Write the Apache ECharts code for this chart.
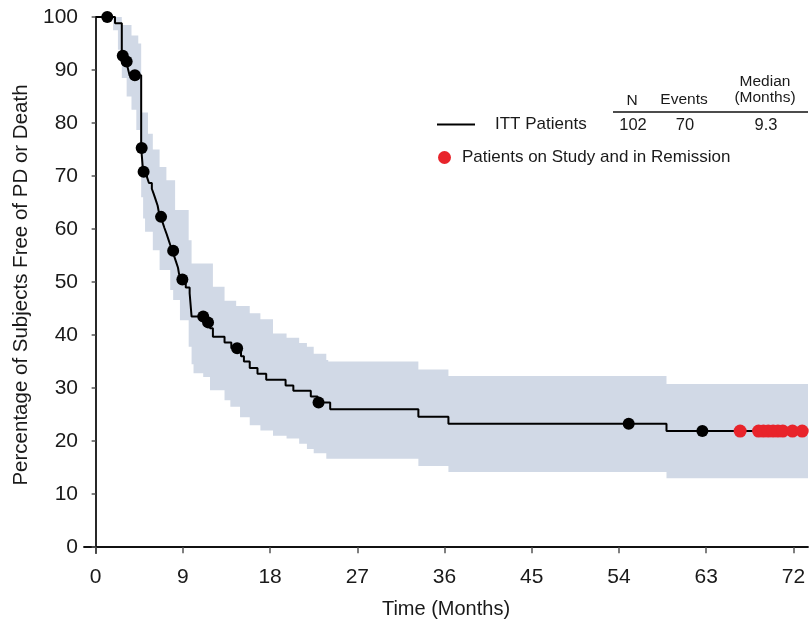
<!DOCTYPE html>
<html>
<head>
<meta charset="utf-8">
<title>PFS - ITT Patients</title>
<script src="https://cdn.jsdelivr.net/npm/echarts@6/dist/echarts.min.js"></script>
<style>
    html, body { margin: 0; padding: 0; background: #fff; }
    #chart { width: 809px; height: 622px; }
</style>
</head>
<body>
<div id="chart"></div>
<script>
    // Kaplan-Meier estimate: value (%) holds from that time (months) on
    var kmTime = [0, 2.0, 2.7, 3.0, 3.3, 3.5, 4.7, 4.9, 5.3, 5.5, 5.8, 6.0, 6.2, 6.4, 6.5, 6.6,
        6.9, 7.1, 7.3, 7.5, 7.7, 7.9, 8.1, 8.3, 8.5, 8.6, 8.8, 9.3, 9.7, 9.9, 11.3, 11.8, 12.1,
        13.3, 14.0, 15.0, 15.3, 15.9, 16.7, 17.6, 19.6, 20.4, 22.2, 22.9, 24.2, 33.3, 36.4, 58.9, 72.9];
    var kmSurv = [100, 98.8, 92.7, 91.6, 90.5, 89.0, 75.3, 70.8, 69.8, 68.7, 67.6, 66.6, 65.5, 64.4, 63.4, 62.3,
        61.3, 60.2, 59.2, 58.1, 57.0, 55.9, 54.9, 53.8, 52.7, 51.6, 50.5, 49.0, 47.9, 43.5, 42.4, 41.3, 39.7,
        38.6, 37.5, 36.0, 35.0, 33.8, 32.7, 31.6, 30.5, 29.5, 28.4, 27.3, 26.0, 24.6, 23.3, 21.9, 21.9];

    // 95% confidence band, step values from each time on
    var bandTime = [0, 1.8, 2.3, 2.7, 3.2, 3.7, 4.2, 4.4, 4.6, 4.7, 4.9, 5.1, 5.4, 5.9, 6.6, 7.3, 7.7,
        8.0, 8.2, 8.7, 9.6, 9.9, 10.1, 11.1, 11.8, 12.1, 13.3, 13.9, 14.5, 14.9, 15.9, 17.0, 18.3,
        19.7, 21.0, 21.8, 22.5, 23.8, 24.0, 33.3, 36.4, 58.9, 73.5];
    var bandLo = [100, 97.5, 93.8, 88.5, 85.0, 82.5, 78.7, 78.7, 75.0, 66.0, 62.0, 59.5, 59.5, 56.0, 52.3, 52.3, 48.5,
        46.6, 46.6, 42.8, 37.8, 34.5, 32.8, 32.1, 29.6, 29.6, 27.7, 26.5, 26.5, 24.5, 23.0, 22.0, 21.0,
        20.5, 19.5, 18.5, 17.7, 16.7, 16.7, 15.3, 14.2, 13.0, 13.0];
    var bandHi = [100, 100, 100, 98.5, 98.5, 96.5, 96.5, 95.0, 95.0, 82.0, 82.0, 82.0, 78.0, 75.0, 71.7, 69.2, 69.2,
        69.2, 63.6, 63.6, 57.9, 53.5, 53.5, 53.5, 53.5, 49.1, 46.5, 46.5, 45.5, 45.5, 44.1, 43.0, 40.3,
        39.5, 38.5, 37.8, 36.5, 35.3, 35.0, 33.5, 32.3, 30.8, 30.8];

    // censored patients
    var censorTime = [1.2, 2.8, 3.2, 4.05, 4.75, 4.95, 6.75, 8.0, 8.95, 11.1, 11.6, 14.6, 23.0, 55.0, 62.6];
    var censorSurv = [100, 92.7, 91.6, 89.0, 75.3, 70.8, 62.3, 55.9, 50.5, 43.5, 42.4, 37.5, 27.3, 23.3, 21.9];
    var remissionTime = [66.5, 68.4, 68.9, 69.4, 69.9, 70.4, 70.9, 71.9, 72.9];
    var remissionSurv = [21.9, 21.9, 21.9, 21.9, 21.9, 21.9, 21.9, 21.9, 21.9];

    var xTicks = [0, 9, 18, 27, 36, 45, 54, 63, 72];
    var yTicks = [0, 10, 20, 30, 40, 50, 60, 70, 80, 90, 100];

    function zip(a, b) {
        return a.map(function (v, i) { return [v, b[i]]; });
    }

    var font = 'Liberation Sans, Arial, sans-serif';
    var textColor = '#1a1a1a';

    function renderBand(params, api) {
        var n = bandTime.length;
        var pts = [];
        for (var i = 0; i < n - 1; i++) {
            pts.push(api.coord([bandTime[i], bandHi[i]]));
            pts.push(api.coord([bandTime[i + 1], bandHi[i]]));
        }
        for (var j = n - 2; j >= 0; j--) {
            pts.push(api.coord([bandTime[j + 1], bandLo[j]]));
            pts.push(api.coord([bandTime[j], bandLo[j]]));
        }
        return {
            type: 'polygon',
            shape: { points: pts },
            style: { fill: '#d1d9e6' }
        };
    }

    function tableText(x, y, text, size) {
        return {
            type: 'text', x: x, y: y,
            style: { text: text, font: size + 'px ' + font, fill: textColor, align: 'center', verticalAlign: 'middle' }
        };
    }

    var chart = echarts.init(document.getElementById('chart'));
    chart.setOption({
        animation: false,
        textStyle: { fontFamily: font },
        grid: { left: 84, right: 1, top: 17, bottom: 69, outerBoundsMode: 'none' },
        legend: [{
            data: [{ name: 'ITT Patients', icon: 'rect' }],
            left: 432, top: 111,
            itemWidth: 38, itemHeight: 2,
            textStyle: { fontSize: 17, color: textColor, padding: [0, 0, 0, 15] },
            selectedMode: false
        }, {
            data: [{ name: 'Patients on Study and in Remission', icon: 'circle' }],
            left: 433, top: 144,
            itemWidth: 13, itemHeight: 13,
            textStyle: { fontSize: 17, color: textColor, padding: [0, 0, 0, 6] },
            selectedMode: false
        }],
        graphic: [
            tableText(632, 101, 'N', 15.5),
            tableText(684, 100, 'Events', 15.5),
            tableText(765, 82, 'Median', 15.5),
            tableText(765, 98, '(Months)', 15.5),
            { type: 'line', shape: { x1: 613, y1: 112, x2: 808, y2: 112 }, style: { stroke: '#111', lineWidth: 1.5 } },
            tableText(633, 125, '102', 16.5),
            tableText(685, 125, '70', 16.5),
            tableText(766, 125, '9.3', 16.5)
        ],
        xAxis: {
            type: 'value',
            min: -1.2,
            max: 73.5,
            name: 'Time (Months)',
            nameLocation: 'middle',
            nameGap: 46,
            nameTextStyle: { fontSize: 20, color: textColor },
            axisLine: { show: true, lineStyle: { color: '#111', width: 1.8 } },
            axisTick: { show: true, customValues: xTicks, length: 6, lineStyle: { color: '#555', width: 1.5 } },
            axisLabel: { customValues: xTicks, fontSize: 21, color: textColor, margin: 14 },
            splitLine: { show: false }
        },
        yAxis: {
            type: 'value',
            min: -1.1,
            max: 100,
            name: 'Percentage of Subjects Free of PD or Death',
            nameLocation: 'middle',
            nameGap: 52,
            nameTextStyle: { fontSize: 20.5, color: textColor },
            axisLine: { show: true, lineStyle: { color: '#111', width: 1.8 } },
            axisTick: { show: true, customValues: yTicks, length: 4, lineStyle: { color: '#555', width: 1.5 } },
            axisLabel: { customValues: yTicks, fontSize: 21, color: textColor, margin: 6 },
            splitLine: { show: false }
        },
        series: [{
            name: '95% CI',
            type: 'custom',
            renderItem: renderBand,
            data: [[0, 100]],
            encode: { x: 0, y: 1 },
            silent: true,
            z: 1
        }, {
            name: 'ITT Patients',
            type: 'line',
            step: 'end',
            data: zip(kmTime, kmSurv),
            symbol: 'none',
            lineStyle: { color: '#000', width: 2 },
            itemStyle: { color: '#000' },
            z: 2
        }, {
            name: 'Censored',
            type: 'scatter',
            data: zip(censorTime, censorSurv),
            symbolSize: 12,
            itemStyle: { color: '#000', opacity: 1 },
            z: 3
        }, {
            name: 'Patients on Study and in Remission',
            type: 'scatter',
            data: zip(remissionTime, remissionSurv),
            symbolSize: 13,
            itemStyle: { color: '#e8242b', opacity: 1 },
            z: 3
        }]
    });
</script>
</body>
</html>
